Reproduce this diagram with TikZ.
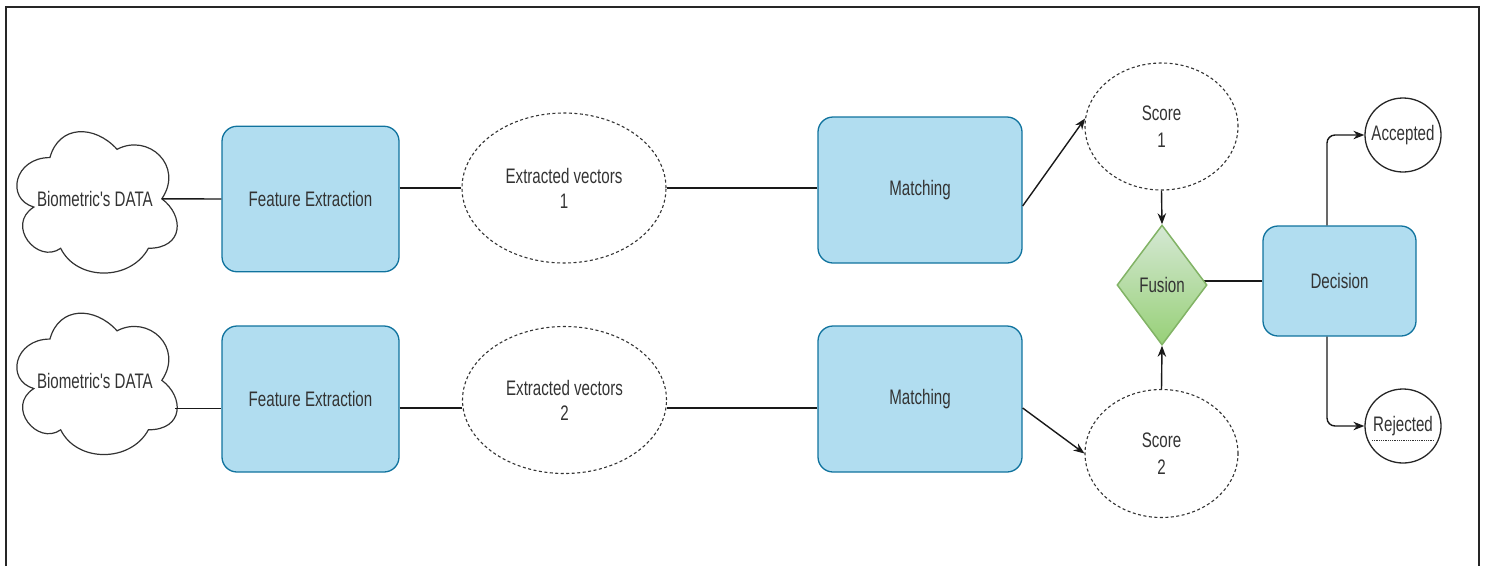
\documentclass[tikz,border=0pt]{standalone}
\usepackage{fontspec}
\setmainfont{Liberation Sans}
\usetikzlibrary{shapes.geometric,arrows.meta,backgrounds,calc}

\definecolor{boxfill}{HTML}{B1DDF0}
\definecolor{boxline}{HTML}{10739E}
\definecolor{fusetop}{HTML}{D5E8D4}
\definecolor{fusebot}{HTML}{97D077}
\definecolor{fuseline}{HTML}{82B366}
\definecolor{ink}{HTML}{333333}

% labels are set a little narrow
\newcommand{\nlab}[1]{\scalebox{0.72}[1]{#1}}

% cloud outline filling the box of the named node
\newcommand{\cloudoutline}[1]{%
  \begin{scope}[shift={(#1.north west)}, x=179pt, y=-165pt]
    \draw[line width=1.2pt, draw=ink]
      (0.25,0.25) .. controls (0.05,0.25) and (0,0.5) .. (0.16,0.55)
      .. controls (0,0.66) and (0.18,0.9) .. (0.31,0.8)
      .. controls (0.4,1) and (0.7,1) .. (0.8,0.8)
      .. controls (1,0.8) and (1,0.6) .. (0.875,0.5)
      .. controls (1,0.3) and (0.8,0.1) .. (0.625,0.2)
      .. controls (0.5,0.05) and (0.3,0.05) .. (0.25,0.25) -- cycle;
  \end{scope}}

\begin{document}
\begin{tikzpicture}[x=1pt,y=-1pt,
  every node/.style={font=\fontsize{21}{25}\selectfont, text=ink, inner sep=0pt, align=center},
  procbox/.style={rectangle, draw=boxline, fill=boxfill, line width=1.3pt, rounded corners=15pt},
  dashell/.style={ellipse, draw=ink, line width=1.1pt, dash pattern=on 3pt off 2.5pt},
  endell/.style={ellipse, draw=black!85, line width=1.3pt, minimum width=76pt, minimum height=74pt},
  conn/.style={draw=black!90, line width=1.4pt},
  arr/.style={conn, -{Stealth[length=11pt,width=8.5pt]}},
  cloudbox/.style={rectangle, minimum width=179pt, minimum height=165pt}
]
\useasboundingbox (0,0) rectangle (1485,566);

% outer frame
\draw[line width=2pt, draw=black!85] (5.5,566) -- (5.5,7) -- (1478.5,7) -- (1478.5,566);

% data sources
\node[cloudbox] (cloud1) at (94.9,199) {\nlab{Biometric\textquotesingle s DATA}};
\node[cloudbox] (cloud2) at (94.9,380.5) {\nlab{Biometric\textquotesingle s DATA}};
\cloudoutline{cloud1}
\cloudoutline{cloud2}
\coordinate (c1out) at ([shift={(156.6,82.5)}]cloud1.north west);
\coordinate (c2out) at ([shift={(170,110.5)}]cloud2.north west);

% feature extraction
\node[procbox, minimum width=177pt, minimum height=145.5pt] (fe1) at (310.5,199) {\nlab{Feature Extraction}};
\node[procbox, minimum width=177pt, minimum height=146pt] (fe2) at (310.5,399) {\nlab{Feature Extraction}};

% extracted vectors
\node[dashell, minimum width=204pt, minimum height=150pt] (ev1) at (564,188) {\nlab{Extracted vectors}\\\nlab{1}};
\node[dashell, minimum width=204pt, minimum height=147pt] (ev2) at (564.5,400) {\nlab{Extracted vectors}\\\nlab{2}};

% matching
\node[procbox, minimum width=204pt, minimum height=146pt] (m1) at (920,190) {\nlab{Matching}};
\node[procbox, minimum width=204pt, minimum height=146pt] (m2) at (920,399) {\nlab{Matching}};

% scores
\node[dashell, minimum width=153pt, minimum height=127pt] (s1) at (1161.5,126.5) {\nlab{Score}\\[2pt]\nlab{1}};
\node[dashell, minimum width=153pt, minimum height=128pt] (s2) at (1161.5,453.5) {\nlab{Score}\\[2pt]\nlab{2}};

% fusion and decision
\node[diamond, draw=fuseline, line width=1.5pt, top color=fusetop, bottom color=fusebot,
      minimum width=90pt, minimum height=120pt] (fus) at (1162,285) {\nlab{Fusion}};
\node[procbox, minimum width=153pt, minimum height=110pt] (dec) at (1339.5,281) {\nlab{Decision}};

% outcomes
\node[endell] (acc) at (1403,135) {\makebox[0pt]{\nlab{Accepted}}};
\node[endell] (rej) at (1403,426) {\makebox[0pt]{\nlab{Rejected}}};
\draw[densely dotted, line width=0.8pt, draw=ink] ([shift={(-31,14)}]rej.center) -- ([shift={(31,14)}]rej.center);

% connectors
\coordinate (row2) at (0,408);
\coordinate (split) at (1327,0);
\draw[conn] (c1out) -- (fe1.west);
\draw[conn] (c2out) -- (c2out -| fe2.west);
\draw[conn] (fe1.east |- ev1.west) -- (ev1.west);
\draw[conn] (ev1.east) -- (ev1.east -| m1.west);
\draw[conn] (fe2.east |- row2) -- (ev2.west |- row2);
\draw[conn] (ev2.east |- row2) -- (m2.west |- row2);
\draw[arr] ([yshift=-16pt]m1.east) -- (s1.174);
\draw[arr] (m2.east |- row2) -- (s2.west);
\draw[arr] (s1.south) -- (fus.north);
\draw[arr] (s2.north) -- (fus.south);
\begin{scope}[on background layer]
  \draw[conn] (dec.west) -- (dec.west -| fus.center);
\end{scope}
\draw[arr, rounded corners=8pt] (dec.north -| split) |- (acc.west);
\draw[arr, rounded corners=8pt] (dec.south -| split) |- (rej.west);
\end{tikzpicture}
\end{document}
